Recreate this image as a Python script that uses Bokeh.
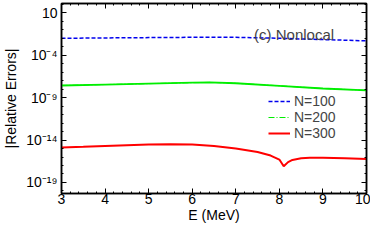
from bokeh.plotting import figure
from bokeh.models import FixedTicker, LogAxis, LinearAxis, Legend, LegendItem, Label
from bokeh.embed import file_html
from bokeh.resources import INLINE

# Data
E100 = [3.0, 4.0, 5.0, 6.0, 6.5, 7.0, 8.0, 9.0, 10.0]
err100 = [1.0e-2, 1.1e-2, 1.2e-2, 1.3e-2, 1.35e-2, 1.3e-2, 1.0e-2, 7e-3, 5e-3]

E200 = [3.0, 4.0, 5.0, 6.0, 6.4, 7.0, 8.0, 9.0, 10.0]
err200 = [2.7e-8, 3.5e-8, 4.5e-8, 5.8e-8, 6.3e-8, 5.0e-8, 2.5e-8, 1.2e-8, 7.4e-9]

E300 = [3.0, 3.5, 4.0, 4.5, 5.0, 5.5, 6.0, 6.5, 7.0, 7.5, 7.8, 8.0, 8.1, 8.2, 8.3, 8.5, 8.7, 9.0, 9.5, 10.0]
err300 = [1.3e-15, 1.6e-15, 2.0e-15, 2.5e-15, 3.0e-15, 3.2e-15, 3.0e-15, 2.0e-15, 1.0e-15, 4.0e-16, 1.5e-16,
          5e-17, 8e-18, 2.5e-17, 4.5e-17, 7e-17, 8e-17, 8e-17, 7e-17, 6e-17]

xticks = [3, 4, 5, 6, 7, 8, 9, 10]
yticks = [1e1, 1e-4, 1e-9, 1e-14, 1e-19]
ylabels = ["10", "10⁻⁴", "10⁻⁹", "10⁻¹⁴", "10⁻¹⁹"]

FONT = "Liberation Sans"

p = figure(width=370, height=236, y_axis_type="log", x_range=(3, 10), y_range=(10**-20.3, 10**2.1),
           output_backend="svg", toolbar_location=None,
           min_border_left=4, min_border_right=4, min_border_top=3, min_border_bottom=43)
p.grid.visible = False
p.outline_line_color = "black"
p.outline_line_width = 1.5

l1 = p.line(E100, err100, line_color="#0000ee", line_width=1.5, line_dash="4 2")
d2 = p.line(E200, err200, line_color="#00ee00", line_width=1.0, line_dash="6 2 1 2")
l2 = p.line(E200, err200, line_color="#00ee00", line_width=1.8)
l3 = p.line(E300, err300, line_color="#ff0000", line_width=2)

yt = FixedTicker(ticks=yticks, minor_ticks=[10.0**k for k in range(-20, 3)])
xt = FixedTicker(ticks=xticks, minor_ticks=[3 + 0.2 * i for i in range(36)])

xa = p.xaxis[0]
ya = p.yaxis[0]
xa.ticker = xt
ya.ticker = yt
xa.axis_label = "E (MeV)"
ya.axis_label = "|Relative Errors|"
ya.major_label_overrides = {t: s for t, s in zip(yticks, ylabels)}

top = LinearAxis(ticker=xt)
right = LogAxis(ticker=yt)
p.add_layout(top, "above")
p.add_layout(right, "right")

for ax in [xa, ya, top, right]:
    ax.major_tick_in = 5
    ax.major_tick_out = 0
    ax.minor_tick_in = 2
    ax.minor_tick_out = 0
    ax.axis_line_color = "black"
    ax.axis_line_width = 1.5
    ax.major_label_text_font = FONT
    ax.major_label_text_color = "black"
    ax.axis_label_text_font = FONT
    ax.axis_label_text_font_size = "14px"
    ax.axis_label_text_font_style = "normal"
    ax.axis_label_text_color = "black"

for ax in [xa, ya]:
    ax.major_label_text_font_size = "14px"
    ax.major_label_standoff = 4
xa.major_label_standoff = 0

for ax in [top, right]:
    ax.major_label_text_font_size = "1px"
    ax.major_label_text_alpha = 0
    ax.major_label_standoff = 0

xa.axis_label_standoff = 0
ya.axis_label_standoff = 4

legend = Legend(items=[LegendItem(label="N=100", renderers=[l1]),
                       LegendItem(label="N=200", renderers=[d2]),
                       LegendItem(label="N=300", renderers=[l3])],
                location=(207, 52), border_line_color=None, background_fill_alpha=0,
                label_text_font=FONT, label_text_font_size="14px",
                glyph_width=22, glyph_height=16, label_height=16, spacing=-2, padding=0,
                label_standoff=4)
p.add_layout(legend, "center")

p.add_layout(Label(x=7.42, y=10**-1.5, text="(c) Nonlocal", text_font=FONT, text_font_size="15px",
                   text_baseline="middle", text_align="left"))

open("out.html", "w").write(file_html(p, INLINE))
